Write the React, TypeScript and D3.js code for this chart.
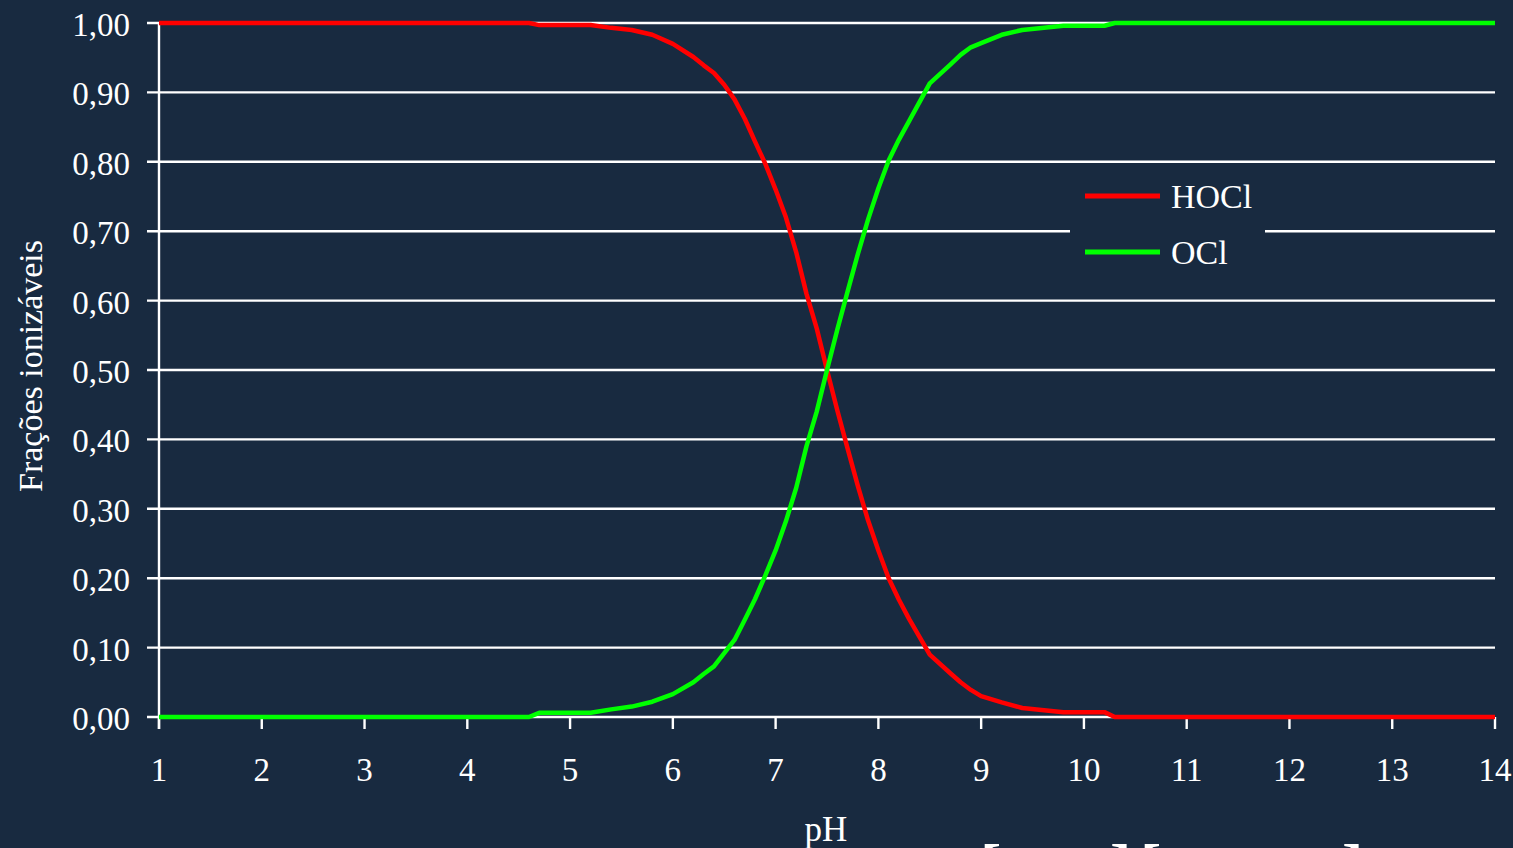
import * as d3 from 'd3';
import { useEffect, useRef } from 'react';

// values
const phValues = [1, 2, 3, 4, 4.6, 4.7, 5.2, 5.4, 5.6, 5.8, 6.0, 6.2, 6.3, 6.4, 6.5, 6.6, 6.7, 6.8, 6.9, 7.0, 7.1, 7.2, 7.3, 7.4, 7.5, 7.6, 7.7, 7.8, 7.9, 8.0, 8.1, 8.2, 8.3, 8.5, 8.7, 8.8, 8.9, 9.0, 9.2, 9.4, 9.8, 10.2, 10.3, 11, 12, 13, 14];
const hoclValues = [1, 1, 1, 1, 1, 0.997, 0.997, 0.993, 0.99, 0.983, 0.97, 0.951, 0.939, 0.928, 0.911, 0.89, 0.862, 0.829, 0.797, 0.76, 0.72, 0.67, 0.61, 0.56, 0.5, 0.442, 0.387, 0.333, 0.283, 0.24, 0.2, 0.169, 0.141, 0.09, 0.063, 0.05, 0.039, 0.03, 0.021, 0.013, 0.007, 0.007, 0, 0, 0, 0, 0];
const oclValues = [0, 0, 0, 0, 0, 0.006, 0.006, 0.011, 0.015, 0.022, 0.033, 0.05, 0.062, 0.073, 0.092, 0.111, 0.14, 0.17, 0.204, 0.24, 0.282, 0.33, 0.39, 0.44, 0.5, 0.558, 0.613, 0.667, 0.717, 0.762, 0.802, 0.832, 0.859, 0.913, 0.94, 0.954, 0.965, 0.971, 0.983, 0.99, 0.996, 0.996, 1, 1, 1, 1, 1];
const xTicks = d3.range(1, 15);
const yTicks = d3.range(0, 11).map((i) => i / 10);
const seriesNames = ['HOCl', 'OCl'];
const seriesColors = ['#ff0000', '#00ff00'];

const W = 1513;
const H = 848;
const BG = '#182a40';
const FONT = '"Liberation Serif", "Times New Roman", serif';

export default function App() {
  const svgRef = useRef<SVGSVGElement | null>(null);

  useEffect(() => {
    document.body.style.margin = '0';
    document.body.style.background = BG;

    const svg = d3.select(svgRef.current);
    svg.selectAll('*').remove();

    const x = d3.scaleLinear().domain([1, 14]).range([159, 1495]);
    const y = d3.scaleLinear().domain([0, 1]).range([717, 23]);

    svg.append('rect').attr('width', W).attr('height', H).attr('fill', BG);

    // horizontal grid lines (with the small tick left of the axis)
    svg.append('g')
      .selectAll('line')
      .data(yTicks)
      .join('line')
      .attr('x1', 147)
      .attr('x2', x(14))
      .attr('y1', (d) => y(d))
      .attr('y2', (d) => y(d))
      .attr('stroke', '#fff')
      .attr('stroke-width', 2.4);

    // y axis line
    svg.append('line')
      .attr('x1', x(1)).attr('x2', x(1))
      .attr('y1', y(1)).attr('y2', y(0) + 12)
      .attr('stroke', '#fff').attr('stroke-width', 2.4);

    // x ticks
    svg.append('g')
      .selectAll('line')
      .data(xTicks)
      .join('line')
      .attr('x1', (d) => x(d))
      .attr('x2', (d) => x(d))
      .attr('y1', y(0))
      .attr('y2', y(0) + 12)
      .attr('stroke', '#fff')
      .attr('stroke-width', 2.4);

    // y tick labels
    svg.append('g')
      .selectAll('text')
      .data(yTicks)
      .join('text')
      .attr('x', 130)
      .attr('y', (d) => y(d) + 13)
      .attr('text-anchor', 'end')
      .attr('fill', '#fff')
      .attr('font-family', FONT)
      .attr('font-size', 33)
      .text((d) => d.toFixed(2).replace('.', ','));

    // x tick labels
    svg.append('g')
      .selectAll('text')
      .data(xTicks)
      .join('text')
      .attr('x', (d) => x(d))
      .attr('y', 781)
      .attr('text-anchor', 'middle')
      .attr('fill', '#fff')
      .attr('font-family', FONT)
      .attr('font-size', 33)
      .text((d) => String(d));

    // axis titles
    svg.append('text')
      .attr('x', 826)
      .attr('y', 841)
      .attr('text-anchor', 'middle')
      .attr('fill', '#fff')
      .attr('font-family', FONT)
      .attr('font-size', 35)
      .text('pH');

    svg.append('text')
      .attr('transform', 'translate(42,366) rotate(-90)')
      .attr('text-anchor', 'middle')
      .attr('fill', '#fff')
      .attr('font-family', FONT)
      .attr('font-size', 34)
      .text('Frações ionizáveis');

    const line = d3.line<number>()
      .x((_, i) => x(phValues[i]))
      .y((d) => y(d));

    [hoclValues, oclValues].forEach((vals, i) => {
      svg.append('path')
        .datum(vals)
        .attr('fill', 'none')
        .attr('stroke', seriesColors[i])
        .attr('stroke-width', 4.5)
        .attr('stroke-linejoin', 'round')
        .attr('d', line);
    });

    // legend
    const lg = svg.append('g');
    lg.append('rect')
      .attr('x', 1070).attr('y', 172)
      .attr('width', 195).attr('height', 116)
      .attr('fill', BG);
    seriesNames.forEach((name, i) => {
      const cy = 196 + i * 56;
      lg.append('line')
        .attr('x1', 1085).attr('x2', 1160)
        .attr('y1', cy).attr('y2', cy)
        .attr('stroke', seriesColors[i])
        .attr('stroke-width', 5);
      lg.append('text')
        .attr('x', 1171)
        .attr('y', cy + 12)
        .attr('fill', '#fff')
        .attr('font-family', FONT)
        .attr('font-size', 34)
        .text(name);
    });

    // tops of a formula cut off at the bottom edge
    const brackets = [[980, '['], [1110, ']'], [1140, '['], [1342, ']']] as const;
    svg.append('g')
      .selectAll('text')
      .data(brackets)
      .join('text')
      .attr('x', (d) => d[0])
      .attr('y', 888)
      .attr('fill', '#fff')
      .attr('font-family', FONT)
      .attr('font-weight', 'bold')
      .attr('font-size', 64)
      .text((d) => d[1]);
  }, []);

  return (
    <svg
      ref={svgRef}
      width={W}
      height={H}
      style={{ position: 'absolute', left: 0, top: 0, display: 'block' }}
    />
  );
}
